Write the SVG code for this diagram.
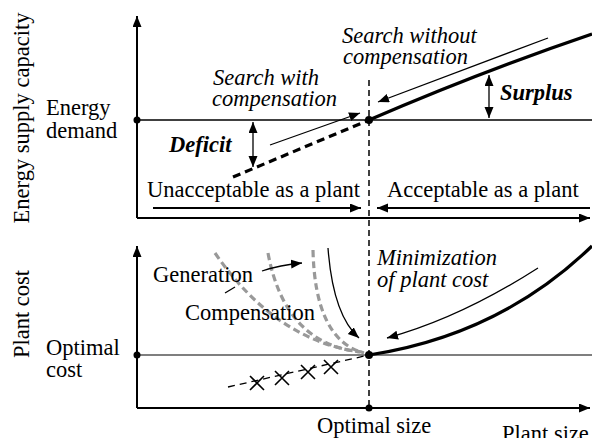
<svg xmlns="http://www.w3.org/2000/svg" width="592" height="438" viewBox="0 0 592 438" font-family="'Liberation Serif', 'DejaVu Serif', serif">
<defs>
<marker id="ah" markerUnits="userSpaceOnUse" markerWidth="12" markerHeight="10" refX="11" refY="4.5" orient="auto-start-reverse"><path d="M0,0 L11,4.5 L0,9 z" fill="#000"/></marker>
<style>
text{font-family:'Liberation Serif','DejaVu Serif',serif;font-size:22.5px;fill:#000}
.it{font-style:italic}
.bi{font-style:italic;font-weight:bold}
.axis{stroke:#000;stroke-width:2;fill:none}
.thin{stroke:#000;stroke-width:1.3;fill:none}
.bold{stroke:#000;stroke-width:3.2;fill:none}
.gray{stroke:#999;stroke-width:3.2;fill:none;stroke-dasharray:7 4}
.dot{fill:#000}
</style>
</defs>
<g id="labels-y">
<text transform="translate(29,118) rotate(-90)" text-anchor="middle">Energy supply capacity</text>
<text transform="translate(29,314) rotate(-90)" text-anchor="middle">Plant cost</text>
</g>
<g id="axes">
<path class="axis" d="M137,218 L137,16" marker-end="url(#ah)"/>
<path class="axis" d="M137,218 L590,218" marker-end="url(#ah)"/>
<path class="axis" d="M137,408 L137,246" marker-end="url(#ah)"/>
<path class="axis" d="M137,408 L590,408" marker-end="url(#ah)"/>
<line x1="137" y1="120" x2="592" y2="120" stroke="#000" stroke-width="1.3"/>
<line x1="137" y1="355" x2="592" y2="355" stroke="#555" stroke-width="1.3"/>
<line x1="369" y1="80" x2="369" y2="408" stroke="#000" stroke-width="1.5" stroke-dasharray="6 4"/>
</g>
<g id="energy-demand">
<circle class="dot" cx="137" cy="120" r="3.5"/>
<text x="46" y="115">Energy</text>
<text x="46" y="138">demand</text>
</g>
<g id="optimal-cost">
<circle class="dot" cx="137" cy="355" r="3.5"/>
<text x="46" y="355">Optimal</text>
<text x="46" y="377">cost</text>
</g>
<g id="optimal-point-top"><circle class="dot" cx="369" cy="120" r="4"/></g>
<g id="optimal-point-bottom"><circle class="dot" cx="369" cy="355" r="4"/></g>
<g id="optimal-size">
<circle class="dot" cx="369" cy="408" r="3.5"/>
<text x="317" y="433">Optimal size</text>
</g>
<g id="plant-size"><text x="502" y="441">Plant size</text></g>
<g id="curves">
<path class="bold" d="M369,120 Q480,72 592,34"/>
<path d="M233,177 L369,120" stroke="#000" stroke-width="3.2" stroke-dasharray="8 5" fill="none"/>
<path class="bold" d="M369,355 Q500,335 592,246"/>
<path class="gray" d="M215,253 Q275,340 360,352"/>
<path class="gray" d="M268,253 Q285,345 362,352"/>
<path class="gray" d="M313,250 Q315,340 364,353"/>
<path d="M228,387 L369,355" stroke="#000" stroke-width="1.3" stroke-dasharray="7 5" fill="none"/>
</g>
<g id="crosses" stroke="#000" stroke-width="1.6">
<path d="M250,376 L264,390 M250,390 L264,376"/>
<path d="M275,371 L289,385 M275,385 L289,371"/>
<path d="M301,365 L315,379 M301,379 L315,365"/>
<path d="M324,360 L338,374 M324,374 L338,360"/>
</g>
<g id="connectors">
<path class="thin" d="M270,145 L360,113" marker-end="url(#ah)"/>
<path class="thin" d="M548,38 L378,102" marker-end="url(#ah)"/>
<path class="thin" d="M489,75 L489,118" marker-start="url(#ah)" marker-end="url(#ah)"/>
<path class="thin" d="M253,122 L253,167" marker-start="url(#ah)" marker-end="url(#ah)"/>
<path class="axis" d="M153,208 L361,208" marker-end="url(#ah)"/>
<path class="axis" d="M590,208 L377,208" marker-end="url(#ah)"/>
<path class="thin" d="M538,268 Q460,318 387,338" marker-end="url(#ah)"/>
<path class="thin" d="M328,248 Q333,315 359,338" marker-end="url(#ah)"/>
<path class="thin" d="M262,271 Q280,265 302,263" marker-end="url(#ah)"/>
<path class="thin" d="M225,293 L235,287"/>
</g>
<g id="search-with">
<text class="it" x="213" y="85">Search with</text>
<text class="it" x="212" y="106">compensation</text>
</g>
<g id="search-without">
<text class="it" x="342" y="43">Search without</text>
<text class="it" x="343" y="64">compensation</text>
</g>
<g id="deficit"><text class="bi" x="169" y="152">Deficit</text></g>
<g id="surplus"><text class="bi" x="500" y="100">Surplus</text></g>
<g id="unacceptable"><text x="147" y="197">Unacceptable as a plant</text></g>
<g id="acceptable"><text x="387" y="197">Acceptable as a plant</text></g>
<g id="generation"><text x="153" y="282">Generation</text></g>
<g id="compensation"><text x="185" y="320">Compensation</text></g>
<g id="minimization">
<text class="it" x="377" y="265">Minimization</text>
<text class="it" x="377" y="287">of plant cost</text>
</g>
</svg>
